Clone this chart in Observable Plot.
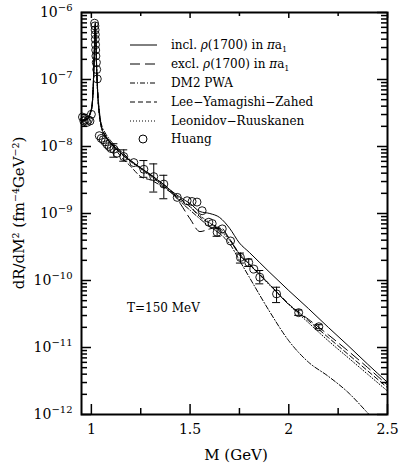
<!DOCTYPE html>
<html><head><meta charset="utf-8">
<script src="https://cdn.jsdelivr.net/npm/d3@7"></script>
<script src="https://cdn.jsdelivr.net/npm/@observablehq/plot@0.6"></script>
<style>
body{margin:0;background:#fff;}
#chart{width:404px;height:470px;}
</style></head><body><div id="chart"></div>
<script>
// grid of invariant mass (GeV)
const mass = [0.95,0.975,1.0,1.008,1.014,1.018,1.02,1.022,1.026,1.032,1.04,1.05,1.07,1.1,1.15,1.2,1.25,1.3,1.35,1.4,1.45,1.5,1.55,1.6,1.65,1.7,1.75,1.8,1.9,2.0,2.1,2.2,2.3,2.4,2.5];
// dR/dM^2 (fm^-4 GeV^-2)
const inclRho = [2.40e-8,2.51e-8,3.55e-8,6.31e-8,2.0e-7,5.62e-7,7.08e-7,5.01e-7,1.78e-7,6.31e-8,3.16e-8,2.0e-8,1.45e-8,1.12e-8,7.94e-9,6.03e-9,4.79e-9,3.80e-9,2.95e-9,2.24e-9,1.74e-9,1.41e-9,1.07e-9,1.0e-9,8.71e-10,6.03e-10,3.63e-10,2.63e-10,1.35e-10,7.08e-11,3.80e-11,2.0e-11,1.07e-11,5.62e-12,3.02e-12];
const exclRho = [2.40e-8,2.51e-8,3.55e-8,6.31e-8,1.95e-7,5.4e-7,6.6e-7,4.8e-7,1.72e-7,6.2e-8,3.16e-8,2.0e-8,1.45e-8,1.12e-8,7.94e-9,6.03e-9,4.79e-9,3.80e-9,2.95e-9,2.24e-9,1.41e-9,8.32e-10,5.37e-10,5.89e-10,6.31e-10,4.17e-10,2.40e-10,1.74e-10,8.91e-11,4.37e-11,2.63e-11,1.55e-11,8.91e-12,5.01e-12,2.75e-12];
const dm2Pwa = [2.5e-8,2.6e-8,3.7e-8,6.5e-8,2.1e-7,5.5e-7,6.8e-7,5.2e-7,1.9e-7,7.0e-8,3.5e-8,2.2e-8,1.6e-8,1.2e-8,8.5e-9,6.2e-9,4.8e-9,3.7e-9,2.8e-9,2.1e-9,1.51e-9,1.12e-9,8.32e-10,6.31e-10,5.01e-10,3.55e-10,2.0e-10,1.12e-10,3.55e-11,1.26e-11,6.03e-12,3.72e-12,2.14e-12,1.05e-12,5.0e-13];
const leeYamagishiZahed = [2.45e-8,2.55e-8,3.6e-8,6.0e-8,1.9e-7,5.2e-7,6.4e-7,4.8e-7,1.7e-7,6.2e-8,3.2e-8,2.05e-8,1.48e-8,1.12e-8,7.08e-9,5.01e-9,3.55e-9,3.16e-9,2.63e-9,2.09e-9,1.66e-9,1.26e-9,8.91e-10,7.08e-10,6.03e-10,4.17e-10,2.51e-10,1.78e-10,8.91e-11,4.47e-11,2.51e-11,1.41e-11,7.94e-12,4.47e-12,2.51e-12];
const leonidovRuuskanen = [2.35e-8,2.45e-8,3.4e-8,5.8e-8,1.85e-7,5.0e-7,6.2e-7,4.6e-7,1.6e-7,5.9e-8,3.0e-8,1.95e-8,1.42e-8,1.1e-8,7.8e-9,5.9e-9,4.6e-9,3.6e-9,2.8e-9,2.15e-9,1.58e-9,1.26e-9,9.33e-10,7.24e-10,5.62e-10,3.98e-10,2.51e-10,1.74e-10,8.71e-11,4.37e-11,2.34e-11,1.26e-11,7.08e-12,3.98e-12,2.24e-12];

// Huang points
const huangM = [0.955,0.962,0.970,0.978,0.985,0.993,1.000,1.016,1.018,1.019,1.020,1.020,1.021,1.022,1.023,1.025,1.027,1.030,1.04,1.05,1.06,1.07,1.08,1.09,1.10,1.114,1.13,1.164,1.215,1.266,1.316,1.367,1.435,1.485,1.51,1.535,1.561,1.595,1.612,1.637,1.663,1.705,1.755,1.797,1.823,1.853,1.938,2.05,2.152];
const huangRate = [2.75e-8,2.40e-8,2.51e-8,2.29e-8,2.51e-8,2.40e-8,3.02e-8,6.92e-7,6.31e-7,5.50e-7,4.68e-7,3.98e-7,3.31e-7,2.75e-7,2.24e-7,1.78e-7,1.41e-7,1.02e-7,1.45e-8,1.32e-8,1.26e-8,1.17e-8,1.07e-8,1.0e-8,9.33e-9,9.12e-9,7.94e-9,7.08e-9,5.75e-9,4.57e-9,3.55e-9,2.75e-9,1.74e-9,1.55e-9,1.51e-9,1.48e-9,1.10e-9,7.41e-10,7.08e-10,5.25e-10,5.89e-10,3.89e-10,2.21e-10,1.86e-10,1.48e-10,1.12e-10,6.31e-11,3.31e-11,2.04e-11];
const errM = [1.114,1.164,1.266,1.316,1.367,1.637,1.755,1.797,1.853,1.938,2.05,2.152];
const errLow = [6.92e-9,6.03e-9,3.47e-9,2.09e-9,1.66e-9,4.57e-10,1.82e-10,1.62e-10,8.91e-11,4.68e-11,3.02e-11,1.91e-11];
const errHigh = [1.10e-8,8.91e-9,6.17e-9,5.50e-9,3.72e-9,6.03e-10,2.57e-10,2.09e-10,1.41e-10,7.94e-11,3.63e-11,2.19e-11];

const xTicks = [1, 1.5, 2, 2.5];
const xMinorTicks = [1.25, 1.75, 2.25];
const yExponents = [-12, -11, -10, -9, -8, -7, -6];
const seriesNames = ["incl. ρ(1700) in πa₁", "excl. ρ(1700) in πa₁", "DM2 PWA", "Lee−Yamagishi−Zahed", "Leonidov−Ruuskanen"];
const seriesValues = [inclRho, exclRho, dm2Pwa, leeYamagishiZahed, leonidovRuuskanen];
const dashes = ["none", "10,5", "5,2,1,2", "5,3", "1,2"];

const W = 404, H = 470, ML = 81, MR = 17, MT = 12, MB = 56;
const PW = W - ML - MR, PH = H - MT - MB;

const yMajor = yExponents.map(e => Math.pow(10, e));
const yMinor = [];
yExponents.slice(0, -1).forEach(e => { for (let m = 2; m <= 9; m++) yMinor.push(m * Math.pow(10, e)); });

const curveMarks = seriesValues.map((vals, k) =>
  Plot.line(mass.map((m, i) => ({m, r: vals[i]})), {x: "m", y: "r", stroke: "black", strokeWidth: 1, strokeDasharray: dashes[k], clip: true, curve: "monotone-x"})
);
const huang = huangM.map((m, i) => ({m, r: huangRate[i]}));
const errs = errM.map((m, i) => ({m, lo: errLow[i], hi: errHigh[i]}));
const tickStyle = {stroke: "black", strokeWidth: 1.5};

const svg = Plot.plot({
  width: W, height: H,
  marginLeft: ML, marginRight: MR, marginTop: MT, marginBottom: MB,
  x: {domain: [0.95, 2.5]},
  y: {type: "log", domain: [1e-12, 1e-6]},
  style: {fontFamily: "DejaVu Serif, serif", fontSize: "14px", color: "black", background: "white"},
  marks: [
    // inward ticks on all four sides
    Plot.ruleY(yMajor, {insetRight: PW - 10, ...tickStyle}),
    Plot.ruleY(yMinor, {insetRight: PW - 6, ...tickStyle}),
    Plot.ruleY(yMajor, {insetLeft: PW - 10, ...tickStyle}),
    Plot.ruleY(yMinor, {insetLeft: PW - 6, ...tickStyle}),
    Plot.ruleX(xTicks, {insetTop: PH - 10, ...tickStyle}),
    Plot.ruleX(xMinorTicks, {insetTop: PH - 6, ...tickStyle}),
    Plot.ruleX(xTicks, {insetBottom: PH - 6, ...tickStyle}),
    Plot.ruleX(xMinorTicks, {insetBottom: PH - 4, ...tickStyle}),
    Plot.axisY(yMajor, {anchor: "left", tickSize: 0, tickPadding: 9, label: null, tickFormat: d => "10|−" + Math.round(-Math.log10(d))}),
    Plot.axisX(xTicks, {anchor: "bottom", tickSize: 0, tickPadding: 10, label: null, tickFormat: d => String(d), fontSize: 14}),
    ...curveMarks,
    Plot.ruleX(errs, {x: "m", y1: "lo", y2: "hi", stroke: "black", strokeWidth: 1}),
    Plot.ruleY(errs, {y: "lo", x1: "m", x2: "m", insetLeft: -4, insetRight: -4, stroke: "black"}),
    Plot.ruleY(errs, {y: "hi", x1: "m", x2: "m", insetLeft: -4, insetRight: -4, stroke: "black"}),
    Plot.dot(huang, {x: "m", y: "r", r: 4, stroke: "black", fill: "none", strokeWidth: 0.9}),
    Plot.frame({stroke: "black", strokeWidth: 2})
  ]
});

const s = d3.select(svg);
s.selectAll('g[aria-label="y-axis tick label"] text').each(function () {
  const parts = this.textContent.split("|");
  this.textContent = "";
  d3.select(this).append("tspan").text(parts[0]);
  d3.select(this).append("tspan").attr("dy", "-0.6em").attr("font-size", "10px").text(parts[1]);
});

// axis titles
s.append("text").attr("x", 236).attr("y", 460).attr("text-anchor", "middle")
  .attr("font-size", 15).attr("fill", "black").text("M (GeV)");
s.append("text").attr("transform", "translate(24,213) rotate(-90)").attr("text-anchor", "middle")
  .attr("font-size", 15).attr("fill", "black").text("dR/dM² (fm⁻⁴GeV⁻²)");

// legend
const leg = s.append("g").attr("font-size", 12).attr("fill", "black").attr("text-anchor", "start");
const rowY = [45, 64, 83, 102, 121];
seriesNames.forEach((name, k) => {
  leg.append("line").attr("x1", 130).attr("x2", 157).attr("y1", rowY[k]).attr("y2", rowY[k])
    .attr("stroke", "black").attr("stroke-width", 1).attr("stroke-dasharray", dashes[k]);
  const t = leg.append("text").attr("x", 171).attr("y", rowY[k] + 4);
  if (k < 2) {
    t.append("tspan").text(name.slice(0, 6));
    t.append("tspan").attr("font-style", "italic").text("ρ");
    t.append("tspan").text("(1700) in ");
    t.append("tspan").attr("font-style", "italic").text("π");
    t.append("tspan").text("a");
    t.append("tspan").attr("font-size", 8).attr("dy", 3).text("1");
  } else {
    t.text(name);
  }
});
leg.append("circle").attr("cx", 143).attr("cy", 139).attr("r", 4).attr("fill", "none").attr("stroke", "black");
leg.append("text").attr("x", 171).attr("y", 143).text("Huang");

s.append("text").attr("x", 127).attr("y", 312).attr("font-size", 12).attr("fill", "black")
  .attr("text-anchor", "start").text("T=150 MeV");

document.getElementById("chart").appendChild(svg);
</script>
</body></html>
